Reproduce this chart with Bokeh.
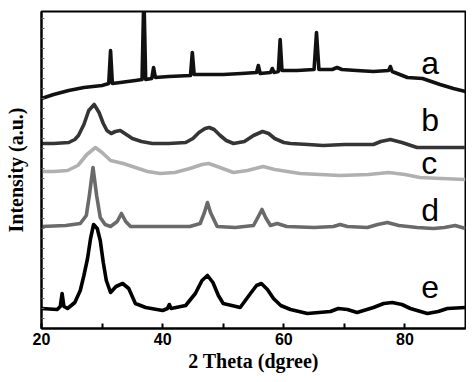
from bokeh.plotting import figure
from bokeh.models import Range1d, FixedTicker, Label
from bokeh.embed import file_html
from bokeh.resources import INLINE

# ---- data (2 Theta in degrees, intensity in arbitrary stacked units) ----
a_x = [20.0, 22.0, 24.5, 27.0, 30.0, 31.1, 31.4, 31.7, 33.0, 35.5, 36.6, 36.9, 37.2, 38.2, 38.5, 38.8,
       41.0, 44.6, 44.9, 45.2, 48.0, 50.0, 53.0, 55.5, 55.8, 56.1, 57.8, 58.1, 58.4, 59.1, 59.4, 59.7,
       62.2, 65.0, 65.4, 65.8, 68.0, 68.8, 69.6, 72.0, 74.8, 77.3, 77.6, 77.9, 80.4, 82.9, 85.8, 88.0, 90.0]
a_y = [230, 234, 238, 241, 243, 245, 278, 245, 246, 248, 249, 335, 249, 250, 261, 251,
       252, 253, 276, 254, 254, 254, 255, 256, 263, 255, 256, 260, 256, 257, 289, 258,
       258, 259, 296, 259, 259, 261, 259, 258, 257, 258, 262, 257, 251, 250, 244, 240, 237]

b_x = [20.0, 22.0, 24.5, 25.5, 26.1, 27.0, 27.8, 28.7, 29.5, 30.2, 30.8, 31.5, 32.2, 33.0, 34.0, 35.0,
       36.5, 38.3, 41.0, 43.8, 45.0, 46.0, 47.0, 47.7, 48.5, 49.5, 50.5, 51.7, 53.5, 55.0, 56.5, 57.5,
       58.5, 60.0, 61.1, 64.0, 66.5, 70.0, 74.8, 76.0, 77.6, 79.5, 82.0, 86.0, 90.0]
b_y = [185, 185, 186, 189, 193, 204, 218, 224, 216, 205, 198, 195, 197, 198, 194, 190,
       187, 185, 185, 186, 190, 196, 200, 201, 199, 193, 188, 185, 187, 193, 197, 195,
       190, 186, 185, 184, 183, 184, 184, 187, 189, 186, 181, 181, 181]

c_x = [20.0, 22.0, 24.3, 26.0, 27.5, 28.9, 30.0, 31.4, 33.5, 35.5, 37.5, 39.6, 42.0, 44.5, 46.5, 47.6,
       49.0, 51.7, 54.0, 56.6, 58.5, 62.7, 66.0, 69.3, 74.0, 77.3, 80.0, 82.5, 86.0, 90.0]
c_y = [157, 157, 158, 163, 174, 181, 176, 168, 165, 161, 157, 155, 156, 160, 164, 165,
       162, 156, 158, 162, 159, 155, 154, 153, 154, 156, 154, 151, 150, 149]

d_x = [20.0, 24.0, 26.4, 27.4, 27.9, 28.5, 29.1, 29.7, 30.5, 31.4, 32.5, 33.2, 33.9, 34.7, 39.6, 44.5,
       46.2, 46.9, 47.4, 47.9, 49.0, 52.0, 55.0, 55.8, 56.4, 57.0, 57.8, 58.9, 60.5, 65.0, 68.2, 69.3,
       70.5, 73.8, 75.5, 77.1, 79.0, 82.0, 84.7, 86.5, 88.3, 90.0]
d_y = [102, 103, 105, 113, 133, 161, 133, 111, 104, 102, 107, 115, 107, 102, 102, 102,
       105, 116, 126, 116, 102, 101, 103, 112, 119, 111, 103, 105, 102, 101, 102, 104,
       102, 101, 104, 106, 103, 101, 100, 101, 103, 100]

e_x = [20.0, 22.6, 23.1, 23.4, 23.7, 24.3, 25.5, 26.4, 27.0, 27.6, 28.1, 28.6, 29.2, 29.7, 30.2, 30.7,
       31.4, 32.3, 33.4, 34.4, 35.5, 37.2, 40.0, 40.8, 41.1, 41.4, 43.8, 45.4, 46.5, 47.4, 48.3, 49.2,
       50.0, 52.8, 54.5, 55.5, 56.3, 57.3, 58.3, 59.5, 61.1, 63.9, 67.7, 69.0, 70.5, 72.1, 74.8, 76.5,
       77.9, 79.5, 80.9, 83.7, 85.5, 87.0, 90.0]
e_y = [20, 19, 22, 35, 22, 20, 26, 38, 53, 70, 90, 104, 100, 88, 66, 48,
       36, 42, 45, 40, 25, 21, 18, 20, 24, 20, 23, 35, 48, 53, 46, 33,
       25, 21, 35, 43, 45, 39, 30, 23, 19, 15, 17, 20, 19, 16, 21, 25,
       26, 24, 20, 15, 17, 20, 21]

series_names = ["a", "b", "c", "d", "e"]
series_x = [a_x, b_x, c_x, d_x, e_x]
series_y = [a_y, b_y, c_y, d_y, e_y]
series_colors = ["#111111", "#353535", "#b0b0b0", "#6a6a6a", "#000000"]

x_ticks = [20, 40, 60, 80]
x_minor = [30, 50, 70]
y_minor = list(range(10, 317, 10))
x_label = "2 Theta (dgree)"
y_label = "Intensity (a.u.)"

# label anchor positions (data coords)
label_x = 82.7
label_y = [266, 209, 166, 119, 42]

p = figure(width=466, height=374, x_range=Range1d(20, 90), y_range=Range1d(0, 317),
           output_backend="svg", toolbar_location=None,
           min_border_left=41, min_border_right=1, min_border_top=11, min_border_bottom=46)
p.background_fill_color = "white"
p.border_fill_color = "white"
p.grid.visible = False
p.outline_line_color = "black"
p.outline_line_width = 2

for xs, ys, col in zip(series_x, series_y, series_colors):
    p.line(xs, ys, line_color=col, line_width=3.6, line_join="round")

for name, ly in zip(series_names, label_y):
    p.add_layout(Label(x=label_x, y=ly, text=name, text_font="Liberation Sans",
                       text_font_size="32px", text_color="black",
                       text_align="left", text_baseline="alphabetic"))

xa = p.xaxis[0]
xa.ticker = FixedTicker(ticks=x_ticks, minor_ticks=x_minor)
xa.axis_line_width = 2
xa.axis_line_color = "black"
xa.major_tick_in = 5
xa.major_tick_out = 0
xa.minor_tick_in = 5
xa.minor_tick_out = 0
xa.major_tick_line_width = 2
xa.minor_tick_line_width = 2
xa.major_label_text_font = "Liberation Sans"
xa.major_label_text_font_style = "bold"
xa.major_label_text_font_size = "16px"
xa.major_label_text_color = "black"
xa.major_label_standoff = 4
xa.axis_label = x_label
xa.axis_label_text_font = "Liberation Serif"
xa.axis_label_text_font_style = "bold"
xa.axis_label_text_font_size = "20px"
xa.axis_label_text_color = "black"
xa.axis_label_standoff = 2

ya = p.yaxis[0]
ya.ticker = FixedTicker(ticks=[], minor_ticks=y_minor)
ya.axis_line_width = 2
ya.axis_line_color = "black"
ya.major_tick_in = 0
ya.major_tick_out = 0
ya.minor_tick_in = 3
ya.minor_tick_out = 0
ya.minor_tick_line_color = "#666666"
ya.major_label_standoff = 0
ya.axis_label = y_label
ya.axis_label_text_font = "Liberation Serif"
ya.axis_label_text_font_style = "bold"
ya.axis_label_text_font_size = "20px"
ya.axis_label_text_color = "black"
ya.axis_label_standoff = 15

open("out.html", "w").write(file_html(p, INLINE))
